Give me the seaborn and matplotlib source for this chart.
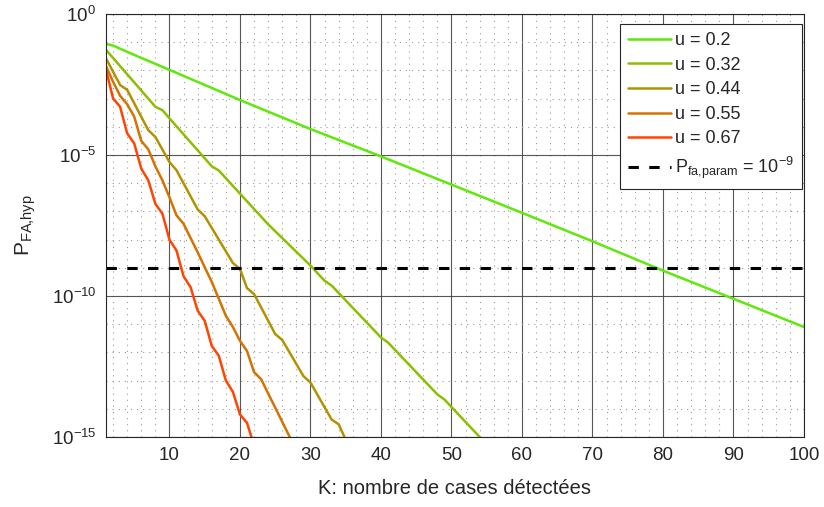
import numpy as np
import pandas as pd
import seaborn as sns
import matplotlib.pyplot as plt
from matplotlib.ticker import FixedLocator, MultipleLocator, NullFormatter

# valeurs (log10 de P_FA,hyp)
k_02 = [1, 2, 5, 10, 20, 30, 40, 50, 60, 70, 80, 90, 100]
p_02 = [-1.06, -1.12, -1.45, -1.98, -3.05, -4.08, -5.05, -6.05, -7.05, -8.06, -9.1, -10.1, -11.1]

k_032 = [1, 8, 9, 10, 16, 17, 24, 30, 32, 33, 40, 41, 48, 49, 54, 55]
p_032 = [-1.27, -3.29, -3.41, -3.70, -5.40, -5.55, -7.46, -8.92, -9.46, -9.63,
         -11.47, -11.65, -13.49, -13.67, -15.0, -15.3]

k_044 = [1, 3, 4, 7, 8, 10, 11, 14, 15, 19, 20, 21, 22, 25, 26, 29, 30, 33, 34, 35]
p_044 = [-1.57, -2.52, -2.69, -4.12, -4.36, -5.25, -5.54, -6.93, -7.17, -8.83, -9.04,
         -9.72, -9.93, -11.35, -11.56, -12.84, -13.07, -14.38, -14.55, -15.1]

k_055 = [1, 2, 3, 4, 5, 6, 7, 8, 9, 10, 11, 12, 14, 15, 16, 17, 18, 19, 20, 21, 22, 23, 27, 28]
p_055 = [-1.85, -2.4, -2.9, -3.2, -3.64, -4.5, -4.8, -5.4, -5.9, -6.5, -7.14, -7.44, -8.45,
         -8.98, -9.5, -10.1, -10.7, -11.1, -11.59, -11.95, -12.7, -12.95, -14.97, -15.4]

k_067 = list(range(1, 23))
p_067 = [-1.98, -2.99, -3.29, -4.23, -4.59, -5.48, -5.90, -6.73, -7.08, -8.0, -8.39,
         -9.3, -9.69, -10.52, -10.88, -11.77, -12.12, -13.0, -13.4, -14.2, -14.5, -15.3]

u_labels = ['u = 0.2', 'u = 0.32', 'u = 0.44', 'u = 0.55', 'u = 0.67']
couleurs = ['#5fe80a', '#8cbf00', '#b39200', '#d67300', '#ff4500']
p_fa_param = 1e-9

frames = []
for lab, k, p in zip(u_labels, [k_02, k_032, k_044, k_055, k_067],
                     [p_02, p_032, p_044, p_055, p_067]):
    frames.append(pd.DataFrame({'K': k, 'P': 10.0 ** np.array(p), 'u': lab}))
df = pd.concat(frames, ignore_index=True)

sns.set_style('white')
plt.rcParams['font.family'] = ['Liberation Sans', 'DejaVu Sans']
plt.rcParams['mathtext.fontset'] = 'custom'
plt.rcParams['mathtext.rm'] = 'Liberation Sans'
plt.rcParams['mathtext.it'] = 'Liberation Sans:italic'

fig = plt.figure(figsize=(8.24, 5.07), dpi=100)
ax = fig.add_axes([106 / 824, 1 - 437 / 507, 698 / 824, 423 / 507])

sns.lineplot(data=df, x='K', y='P', hue='u', palette=couleurs, estimator=None,
             sort=False, linewidth=1.8, ax=ax, legend=False)
ax.axhline(p_fa_param, color='black', linewidth=2.2, dashes=(3.4, 3.4))

ax.set_yscale('log')
ax.set_xlim(1, 100)
ax.set_ylim(1e-15, 1)

ax.xaxis.set_major_locator(FixedLocator(np.arange(10, 101, 10)))
ax.xaxis.set_minor_locator(MultipleLocator(2))
ax.yaxis.set_major_locator(FixedLocator([1e-15, 1e-10, 1e-5, 1]))
ax.yaxis.set_minor_locator(FixedLocator([10.0 ** e for e in range(-15, 1)]))
ax.yaxis.set_minor_formatter(NullFormatter())
ax.set_yticklabels([r'$\mathrm{10^{-15}}$', r'$\mathrm{10^{-10}}$',
                    r'$\mathrm{10^{-5}}$', r'$\mathrm{10^{0}}$'])

ax.grid(which='major', color='#3a3a3a', linewidth=0.8, alpha=0.85)
ax.grid(which='minor', color='#9a9a9a', linewidth=0.8, linestyle=(0, (1, 4.5)))
ax.set_axisbelow(True)
ax.tick_params(which='both', direction='in', labelsize=13.5, colors='#262626',
               top=False, right=False)
ax.tick_params(which='major', length=5, pad=7)
ax.tick_params(which='minor', length=3)
for s in ax.spines.values():
    s.set_color('#262626')
    s.set_linewidth(0.8)

ax.set_xlabel('K: nombre de cases détectées', fontsize=14.5, color='#262626', labelpad=11)
ax.set_ylabel(r'$\mathrm{P_{FA{,}hyp}}$', fontsize=15, color='#262626', labelpad=10)

handles = ax.get_lines()
labels = u_labels + [r'$\mathrm{P_{fa{,}param}}$ = 10$^{-9}$']
leg = ax.legend(handles, labels, loc='upper right', fontsize=13, frameon=True,
                fancybox=False, edgecolor='#262626', framealpha=1,
                bbox_to_anchor=(802 / 824, 1 - 24 / 507), bbox_transform=fig.transFigure,
                borderaxespad=0, borderpad=0.45, handlelength=2.4, handletextpad=0.2,
                labelspacing=0.42)
leg.get_frame().set_linewidth(0.8)

fig.savefig('out.png', dpi=100)
